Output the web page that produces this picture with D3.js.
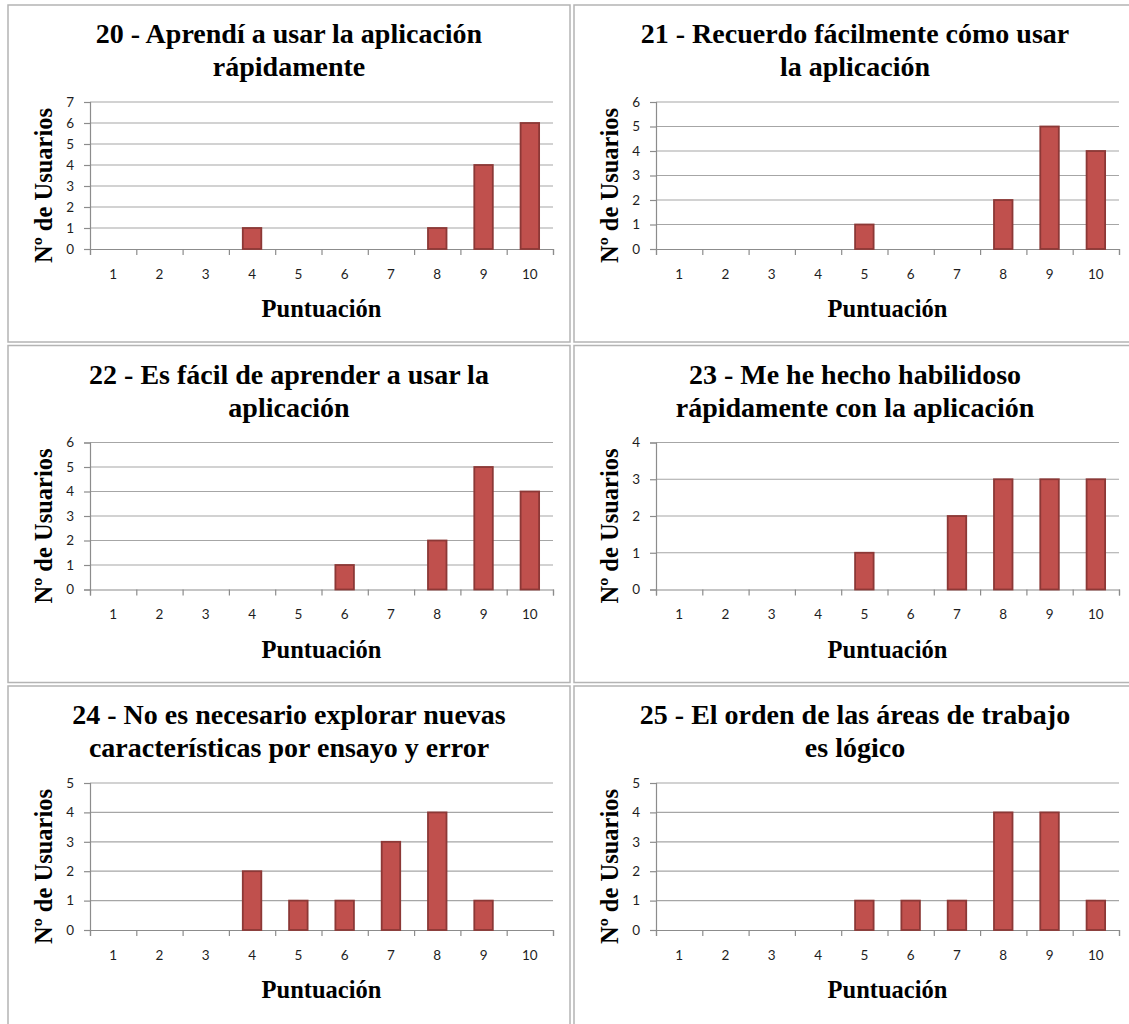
<!DOCTYPE html>
<html>
<head>
<meta charset="utf-8">
<script src="https://cdn.jsdelivr.net/npm/d3@7"></script>
<style>
  html, body { margin: 0; padding: 0; background: #fff; }
  svg { display: block; }
</style>
</head>
<body>
<svg id="chart" width="1129" height="1024"></svg>
<script>
// Puntuaciones 1..10 y número de usuarios por pregunta
const categories = ["1", "2", "3", "4", "5", "6", "7", "8", "9", "10"];

const titles = [
  ["20 - Aprendí a usar la aplicación", "rápidamente"],
  ["21 - Recuerdo fácilmente cómo usar", "la aplicación"],
  ["22 - Es fácil de aprender a usar la", "aplicación"],
  ["23 - Me he hecho habilidoso", "rápidamente con la aplicación"],
  ["24 - No es necesario explorar nuevas", "características por ensayo y error"],
  ["25 - El orden de las áreas de trabajo", "es lógico"]
];

const values20 = [0, 0, 0, 1, 0, 0, 0, 1, 4, 6];
const values21 = [0, 0, 0, 0, 1, 0, 0, 2, 5, 4];
const values22 = [0, 0, 0, 0, 0, 1, 0, 2, 5, 4];
const values23 = [0, 0, 0, 0, 1, 0, 2, 3, 3, 3];
const values24 = [0, 0, 0, 2, 1, 1, 3, 4, 1, 0];
const values25 = [0, 0, 0, 0, 1, 1, 1, 4, 4, 1];

const yMax = [7, 6, 6, 4, 5, 5];

const xTitle = "Puntuación";
const yTitle = "Nº de Usuarios";

const seriesList = [values20, values21, values22, values23, values24, values25];

// Layout of the 3x2 grid of chart boxes
const colX = [8, 574];
const rowY = [5, 345.5, 686];
const boxW = 562, boxH = 337;
const plot = { left: 82, top: 97, width: 463, height: 147 };

const svg = d3.select("#chart");
const serif = "'Liberation Serif', 'Times New Roman', serif";
const sans = "Lato, 'Open Sans', sans-serif";

seriesList.forEach((vals, i) => {
  const row = Math.floor(i / 2);
  const ox = colX[i % 2], oy = rowY[row];
  const g = svg.append("g").attr("transform", `translate(${ox},${oy})`);

  // chart box border (the last row runs past the bottom edge)
  g.append("rect")
    .attr("x", 0).attr("y", 0)
    .attr("width", boxW).attr("height", row === 2 ? boxH + 20 : boxH)
    .attr("fill", "#fff")
    .attr("stroke", "#b4b4b4")
    .attr("stroke-width", 1.5);

  // title (two lines)
  const t = g.append("text")
    .attr("text-anchor", "middle")
    .attr("font-family", serif)
    .attr("font-weight", "bold")
    .attr("font-size", 28)
    .attr("fill", "#000");
  titles[i].forEach((line, k) => {
    t.append("tspan").attr("x", boxW / 2).attr("y", 38 + k * 33).text(line);
  });

  const p = g.append("g").attr("transform", `translate(${plot.left},${plot.top})`);

  const x = d3.scaleBand().domain(categories).range([0, plot.width])
    .paddingInner(0.6).paddingOuter(0.3);
  const xEdge = d3.scaleLinear().domain([0, categories.length]).range([0, plot.width]);
  const y = d3.scaleLinear().domain([0, yMax[i]]).range([plot.height, 0]);

  // horizontal gridlines
  p.append("g")
    .selectAll("line")
    .data(y.ticks(yMax[i]).filter(d => d > 0))
    .join("line")
    .attr("x1", 0).attr("x2", plot.width)
    .attr("y1", d => y(d)).attr("y2", d => y(d))
    .attr("stroke", "#a6a6a6").attr("stroke-width", 1.2);

  // y axis
  const ya = p.append("g")
    .call(d3.axisLeft(y).ticks(yMax[i]).tickFormat(d3.format("d")).tickSize(6).tickPadding(10));
  ya.select(".domain").attr("stroke", "#8c8c8c").attr("stroke-width", 1.2);
  ya.selectAll(".tick line").attr("stroke", "#8c8c8c").attr("stroke-width", 1.2);
  ya.selectAll(".tick text")
    .attr("font-family", sans).attr("font-size", 13.5).attr("fill", "#1e1e1e");

  // x axis: tick marks at category boundaries
  const xa = p.append("g").attr("transform", `translate(0,${plot.height})`)
    .call(d3.axisBottom(xEdge).ticks(categories.length).tickFormat("").tickSize(6));
  xa.select(".domain").attr("stroke", "#8c8c8c").attr("stroke-width", 1.2);
  xa.selectAll(".tick line").attr("stroke", "#8c8c8c").attr("stroke-width", 1.2);

  // x category labels
  const xl = p.append("g").attr("transform", `translate(0,${plot.height})`)
    .call(d3.axisBottom(x).tickSize(0).tickPadding(20));
  xl.select(".domain").remove();
  xl.selectAll(".tick text")
    .attr("font-family", sans).attr("font-size", 13.5).attr("fill", "#1e1e1e");

  // bars
  p.append("g")
    .selectAll("rect")
    .data(vals.map((v, k) => ({ c: categories[k], v })).filter(d => d.v > 0))
    .join("rect")
    .attr("x", d => x(d.c))
    .attr("y", d => y(d.v))
    .attr("width", x.bandwidth())
    .attr("height", d => y(0) - y(d.v))
    .attr("fill", "#c0504d")
    .attr("stroke", "#8c3836")
    .attr("stroke-width", 1.8);

  // axis titles
  g.append("text")
    .attr("x", plot.left + plot.width / 2).attr("y", 312)
    .attr("text-anchor", "middle")
    .attr("font-family", serif).attr("font-weight", "bold").attr("font-size", 24.5)
    .attr("fill", "#000")
    .text(xTitle);

  g.append("text")
    .attr("transform", `translate(44,180.5) rotate(-90)`)
    .attr("text-anchor", "middle")
    .attr("font-family", serif).attr("font-weight", "bold").attr("font-size", 24.5)
    .attr("fill", "#000")
    .text(yTitle);
});
</script>
</body>
</html>
